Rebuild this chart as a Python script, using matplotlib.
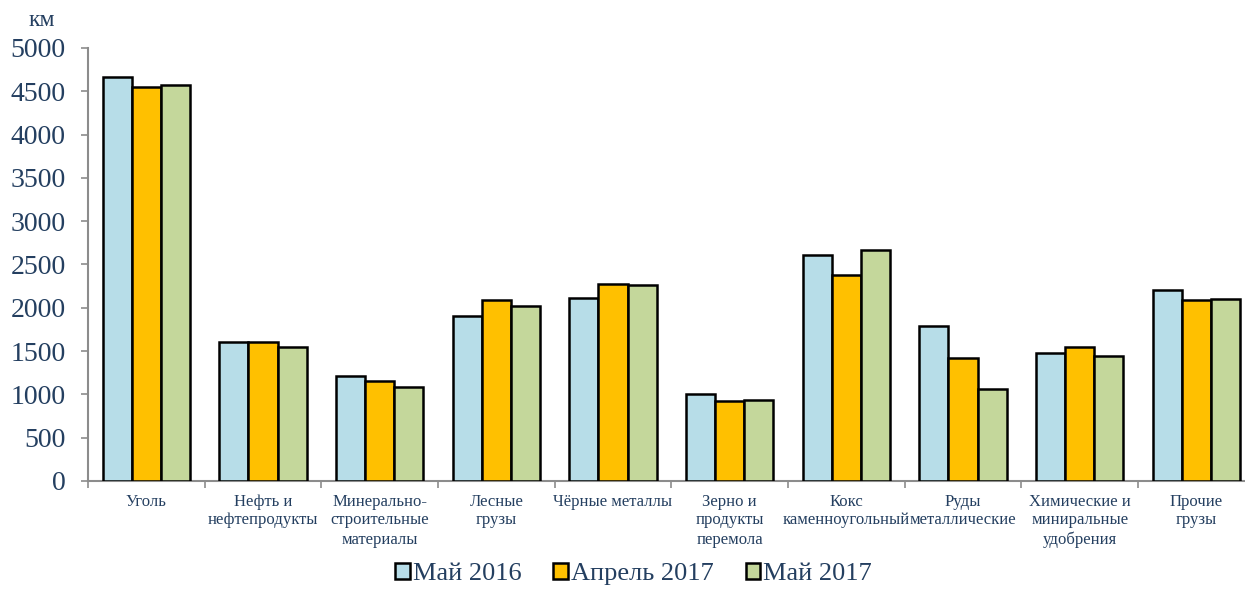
import matplotlib
matplotlib.use("Agg")
import matplotlib.pyplot as plt
import numpy as np

# Данные
categories = ["Уголь", "Нефть и\nнефтепродукты", "Минерально-\nстроительные\nматериалы",
              "Лесные\nгрузы", "Чёрные металлы", "Зерно и\nпродукты\nперемола",
              "Кокс\nкаменноугольный", "Руды\nметаллические",
              "Химические и\nминиральные\nудобрения", "Прочие\nгрузы"]
may_2016 = [4670, 1600, 1210, 1910, 2110, 1005, 2605, 1785, 1480, 2200]
apr_2017 = [4555, 1610, 1150, 2095, 2280, 920, 2380, 1415, 1550, 2095]
may_2017 = [4575, 1545, 1085, 2020, 2265, 935, 2665, 1060, 1445, 2105]
series_names = ["Май 2016", "Апрель 2017", "Май 2017"]
y_ticks = [0, 500, 1000, 1500, 2000, 2500, 3000, 3500, 4000, 4500, 5000]

colors = ["#B7DDE8", "#FFC000", "#C4D79B"]
text_color = "#243F60"
axis_color = "#8C8C8C"

plt.rcParams["font.family"] = ["Liberation Serif", "DejaVu Serif"]

fig = plt.figure(figsize=(12.45, 5.89), dpi=100)
ax = fig.add_axes([88 / 1245, 108 / 589, 1166.7 / 1245, 433 / 589])

x = np.arange(len(categories))
w = 0.25
for k, vals in enumerate([may_2016, apr_2017, may_2017]):
    ax.bar(x + (k - 1) * w, vals, width=w, color=colors[k], edgecolor="black",
           linewidth=1.8, label=series_names[k], zorder=3)

ax.set_xlim(-0.5, len(categories) - 0.5)
ax.set_ylim(0, 5000)

ax.set_yticks(y_ticks)
ax.tick_params(axis="y", labelsize=20, colors=axis_color, labelcolor=text_color,
               length=5, width=1.2, pad=11)

ax.set_xticks(x)
ax.set_xticklabels(categories, fontsize=12, color=text_color, linespacing=1.25)
ax.tick_params(axis="x", length=0, pad=9)
ax.set_xticks(np.arange(-0.5, len(categories), 1.0), minor=True)
ax.tick_params(axis="x", which="minor", length=5, width=1.2, colors=axis_color)

for s in ["top", "right"]:
    ax.spines[s].set_visible(False)
for s in ["left", "bottom"]:
    ax.spines[s].set_color(axis_color)
    ax.spines[s].set_linewidth(1.5)

fig.text(42 / 1245, 1 - 21 / 589, "км", fontsize=17, color=text_color,
         ha="center", va="center")

fig.legend(loc="center", bbox_to_anchor=(0.509, 1 - 574 / 589), ncol=3, frameon=False,
           fontsize=19, handlelength=0.55, handleheight=0.55, handletextpad=0.12,
           columnspacing=1.2, labelcolor=text_color)

fig.savefig("out.png", dpi=100)
